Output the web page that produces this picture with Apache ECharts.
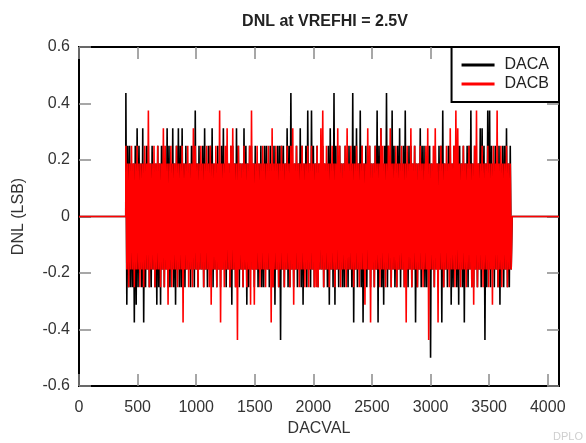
<!DOCTYPE html>
<html>
<head>
<meta charset="utf-8">
<script src="https://cdn.jsdelivr.net/npm/echarts@6/dist/echarts.min.js"></script>
<style>
html,body{margin:0;padding:0;background:#fff;}
#chart{width:586px;height:443px;}
</style>
</head>
<body>
<div id="chart"></div>
<script>
// ---- Data (DNL in 1/16 LSB units, per bin of 16 codes) ----
const titleText = 'DNL at VREFHI = 2.5V';
const seriesNames = ['DACA', 'DACB'];
const xTickLabels = [0, 500, 1000, 1500, 2000, 2500, 3000, 3500, 4000];
const yTickLabels = [-0.6, -0.4, -0.2, 0, 0.2, 0.4, 0.6];
const fullScale = 4096;      // DAC codes
const firstCode = 400;       // first active code
const codesPerBin = 16;
const lsbStep = 16;          // values below are in 1/16 LSB

// DACA positive peak per bin
const dacaHi = [
  7,4,4,3,3,4,5,4,3,5,3,4,4,3,4,3,3,4,3,4,
  4,3,5,4,3,5,3,4,5,4,5,3,4,3,3,4,4,6,3,4,
  3,4,5,3,4,4,5,3,3,4,3,4,5,3,4,3,4,4,3,5,
  4,3,3,5,4,3,4,4,3,4,3,3,4,3,4,4,3,4,3,4,
  3,4,4,4,4,3,5,4,7,3,3,4,3,5,4,3,4,6,3,6,
  4,3,4,3,4,4,3,3,4,5,3,7,4,3,4,3,3,4,3,4,
  3,7,4,5,3,6,4,3,4,3,4,3,3,4,6,4,5,3,4,7,
  4,3,6,4,3,4,5,3,4,6,3,4,4,3,4,3,3,5,4,4,
  3,4,4,3,3,4,3,4,4,6,3,3,4,4,3,4,3,4,4,3,
  4,3,4,4,6,3,4,3,3,5,5,4,3,6,6,4,3,4,3,4,
  3,4,4,5,3,4
];
// DACA negative peak magnitude per bin
const dacaLo = [
  5,4,4,4,6,5,4,3,4,6,4,3,4,4,3,4,5,4,5,3,
  4,3,4,4,3,4,5,3,4,4,3,4,3,3,4,3,4,3,4,3,
  3,4,3,4,3,3,4,3,4,3,4,3,3,4,3,4,5,3,4,3,
  4,3,4,3,5,4,3,3,4,3,4,3,4,4,3,3,4,3,4,5,
  3,4,7,3,4,3,4,4,3,4,3,4,3,4,5,3,4,3,4,3,
  4,3,4,3,3,4,3,4,5,3,4,5,3,4,3,4,4,3,4,3,
  4,6,3,4,3,4,6,3,4,3,4,3,4,3,6,3,4,5,3,4,
  3,4,3,4,4,3,4,3,4,3,4,3,4,3,6,4,3,4,3,4,
  4,3,8,3,4,3,4,3,6,4,3,4,3,5,4,3,4,5,3,4,
  6,3,4,3,4,4,3,4,3,4,3,7,4,3,4,3,4,3,4,5,
  3,4,3,4,4,3
];
// DACB positive peak per bin
const dacbHi = [
  4,3,3,4,3,3,4,3,3,3,4,3,6,3,3,4,3,4,3,3,
  5,4,3,3,4,3,3,4,3,3,4,3,3,4,3,3,5,4,3,3,
  4,3,3,4,3,4,3,3,4,3,6,3,3,4,5,3,4,5,3,3,
  4,3,3,4,3,3,4,6,3,3,4,3,3,4,3,3,4,3,5,3,
  4,3,3,4,3,3,4,3,4,5,3,4,3,3,4,3,3,4,3,4,
  3,3,4,3,5,6,3,4,3,3,4,3,3,5,4,3,3,4,5,3,
  4,3,3,4,3,3,4,3,3,5,4,3,3,4,3,3,5,4,3,3,
  4,5,3,3,4,3,3,4,3,3,4,3,5,3,4,3,3,4,3,3,
  4,5,3,3,4,5,3,3,4,3,3,4,3,5,3,4,6,5,3,3,
  4,3,3,4,3,3,4,6,3,3,4,3,3,4,3,3,4,3,6,3,
  4,3,3,4,3,3
];
// DACB negative peak magnitude per bin
const dacbLo = [
  3,4,3,3,4,3,3,4,3,4,3,3,4,3,3,4,3,3,4,3,
  4,3,5,3,4,3,3,4,3,3,6,3,3,4,3,4,3,3,4,3,
  3,4,3,3,4,5,3,3,4,3,6,3,4,3,3,4,3,3,4,7,
  3,3,4,3,4,3,5,3,5,3,3,4,3,3,4,3,3,6,4,3,
  3,4,3,3,4,3,3,4,3,5,3,3,4,3,3,4,3,4,3,3,
  4,4,4,3,3,4,3,3,4,3,3,4,3,3,4,3,3,4,3,3,
  3,4,3,3,4,3,3,5,3,3,6,3,4,3,3,4,3,3,4,3,
  3,4,3,3,4,3,3,3,4,6,3,3,4,3,3,4,3,3,4,3,
  3,7,3,3,4,3,6,3,3,4,3,3,4,3,3,4,3,3,4,3,
  3,4,3,3,4,5,3,4,3,3,4,3,3,4,3,5,3,3,4,3,
  4,3,3,4,3,3
];

function buildSeries(hi, lo) {
  const pts = [[0, 0], [firstCode - 1, 0]];
  for (let i = 0; i < hi.length; i++) {
    const c = firstCode + i * codesPerBin;
    pts.push([c, hi[i] / lsbStep]);
    pts.push([c + codesPerBin / 2, -lo[i] / lsbStep]);
  }
  const endCode = firstCode + hi.length * codesPerBin;
  pts.push([endCode, 0], [fullScale, 0]);
  return pts;
}

const FONT = '"Liberation Sans", Arial, Helvetica, sans-serif';
const chart = echarts.init(document.getElementById('chart'), null, {renderer: 'canvas'});

const tickStyle = {show: true, inside: true, length: 12, lineStyle: {color: '#8a8a8a', width: 1.5}};
const axisLineStyle = {show: true, onZero: false, lineStyle: {color: '#000', width: 2}};
const xStep = xTickLabels[1] - xTickLabels[0];
const yStep = +(yTickLabels[1] - yTickLabels[0]).toFixed(3);

chart.setOption({
  animation: false,
  backgroundColor: '#fff',
  title: {
    text: titleText,
    left: 320, top: 9, textAlign: 'center',
    textStyle: {fontFamily: FONT, fontSize: 16, fontWeight: 'bold', color: '#222'}
  },
  grid: {left: 79, right: 27, top: 47, bottom: 57, show: true, borderColor: '#000', borderWidth: 2, backgroundColor: '#fff'},
  legend: {
    data: seriesNames.map(n => ({name: n, icon: 'rect'})),
    orient: 'vertical', right: 27, top: 47,
    itemWidth: 33, itemHeight: 3, itemGap: 3,
    padding: [10, 10, 10, 10],
    backgroundColor: '#fff', borderColor: '#000', borderWidth: 2,
    textStyle: {fontFamily: FONT, fontSize: 16, color: '#222', padding: [0, 0, 0, 5]},
    z: 10
  },
  xAxis: [
    {
      type: 'value', min: xTickLabels[0], max: fullScale, interval: xStep,
      name: 'DACVAL', nameLocation: 'middle', nameGap: 30,
      nameTextStyle: {fontFamily: FONT, fontSize: 16, color: '#333'},
      axisLine: axisLineStyle, axisTick: tickStyle, splitLine: {show: false},
      axisLabel: {fontFamily: FONT, fontSize: 16, color: '#333', margin: 14, showMaxLabel: false,
        formatter: v => (xTickLabels.indexOf(v) >= 0 ? String(v) : '')}
    },
    {
      type: 'value', position: 'top', min: xTickLabels[0], max: fullScale, interval: xStep,
      axisLine: axisLineStyle, axisTick: tickStyle, splitLine: {show: false}, axisLabel: {show: false}
    }
  ],
  yAxis: [
    {
      type: 'value', min: yTickLabels[0], max: yTickLabels[yTickLabels.length - 1], interval: yStep,
      name: 'DNL (LSB)', nameLocation: 'middle', nameGap: 52, nameRotate: 90,
      nameTextStyle: {fontFamily: FONT, fontSize: 16, color: '#333'},
      axisLine: axisLineStyle, axisTick: tickStyle, splitLine: {show: false},
      axisLabel: {fontFamily: FONT, fontSize: 16, color: '#333', margin: 9,
        formatter: v => { const r = Math.round(v * 10) / 10; return r === 0 ? '0' : r.toFixed(1); }}
    },
    {
      type: 'value', position: 'right', min: yTickLabels[0], max: yTickLabels[yTickLabels.length - 1], interval: yStep,
      axisLine: axisLineStyle, axisTick: tickStyle, splitLine: {show: false}, axisLabel: {show: false}
    }
  ],
  series: [
    {
      name: seriesNames[0], type: 'line', data: buildSeries(dacaHi, dacaLo),
      showSymbol: false, symbol: 'none', sampling: null,
      lineStyle: {color: '#000', width: 1.6}, itemStyle: {color: '#000'}, z: 2
    },
    {
      name: seriesNames[1], type: 'line', data: buildSeries(dacbHi, dacbLo),
      showSymbol: false, symbol: 'none', sampling: null,
      lineStyle: {color: '#ff0000', width: 1.6}, itemStyle: {color: '#ff0000'}, z: 3
    }
  ],
  graphic: [{
    type: 'text', left: 553, top: 431, silent: true,
    style: {text: 'DPLO', fontFamily: FONT, fontSize: 11, fill: '#cfcfcf'}
  }]
});
</script>
</body>
</html>
